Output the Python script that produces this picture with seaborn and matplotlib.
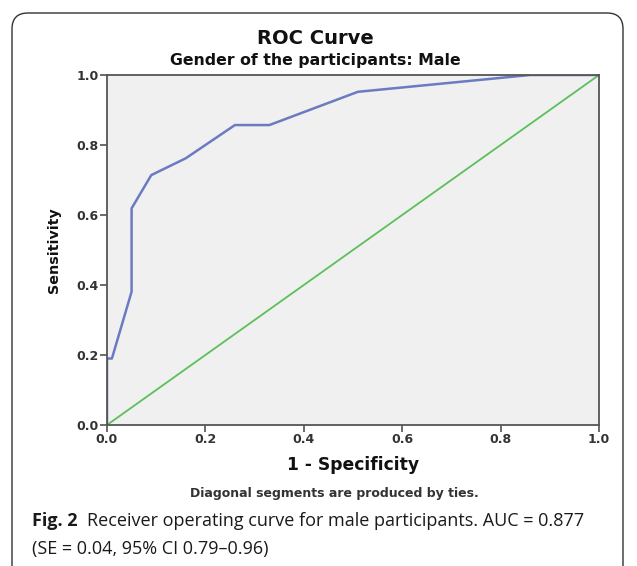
import matplotlib
matplotlib.use("Agg")
import matplotlib.pyplot as plt
import seaborn as sns
import pandas as pd
from matplotlib.patches import FancyBboxPatch

# ROC data (1 - specificity, sensitivity)
fpr = [0.0, 0.0, 0.01, 0.05, 0.05, 0.09, 0.16, 0.26, 0.33, 0.51, 0.86, 1.0]
tpr = [0.0, 0.190, 0.190, 0.381, 0.619, 0.714, 0.762, 0.857, 0.857, 0.952, 1.0, 1.0]
ref_x = [0.0, 1.0]
ref_y = [0.0, 1.0]
ticks = [0.0, 0.2, 0.4, 0.6, 0.8, 1.0]
tick_labels = ["0.0", "0.2", "0.4", "0.6", "0.8", "1.0"]

sns.set_style("white")
plt.rcParams['font.family'] = ['DejaVu Sans']

W, H = 637, 566
fig = plt.figure(figsize=(W/100, H/100), dpi=100)
ax = fig.add_axes([107/W, 1 - 425/H, (599-107)/W, (425-75)/H])
ax.set_facecolor("#f0f0f0")

roc = pd.DataFrame({"fpr": fpr, "tpr": tpr})
diag = pd.DataFrame({"x": ref_x, "y": ref_y})
sns.lineplot(data=diag, x="x", y="y", ax=ax, color="#5cbf5c", lw=1.3, sort=False, estimator=None)
sns.lineplot(data=roc, x="fpr", y="tpr", ax=ax, color="#6b7bc2", lw=1.8, sort=False, estimator=None)

ax.set_xlim(0, 1)
ax.set_ylim(0, 1)
ax.set_xticks(ticks)
ax.set_xticklabels(tick_labels)
ax.set_yticks(ticks)
ax.set_yticklabels(tick_labels)
for lab in ax.get_xticklabels() + ax.get_yticklabels():
    lab.set_fontweight("bold")
    lab.set_fontsize(9)
    lab.set_color("#333333")
ax.tick_params(axis="both", direction="out", length=5, width=1.1, color="#444444", pad=1, left=True, bottom=True)
for s in ax.spines.values():
    s.set_color("#555555")
    s.set_linewidth(1.3)

ax.set_xlabel("1 - Specificity", fontsize=12.3, fontweight="bold", labelpad=7, color="#111111")
ax.set_ylabel("Sensitivity", fontsize=10.3, fontweight="bold", labelpad=11, color="#111111")

fig.text(315/W, 1 - 38/H, "ROC Curve", ha="center", va="center", fontsize=14, fontweight="bold", color="#111111")
fig.text(315/W, 1 - 61/H, "Gender of the participants: Male", ha="center", va="center", fontsize=11.3, fontweight="bold", color="#111111")
fig.text(334/W, 1 - 493/H, "Diagonal segments are produced by ties.", ha="center", va="center", fontsize=9.0, fontweight="bold", color="#333333")

# caption
cap_font = ["Open Sans", "DejaVu Sans"]
t1 = fig.text(32/W, 1 - 521/H, "Fig. 2", ha="left", va="center", fontsize=13, family=cap_font,
              fontweight="bold", color="#1a1a1a")
fig.canvas.draw()
bb = t1.get_window_extent()
x_next = (bb.x1 + 9) / W
fig.text(x_next, 1 - 521/H, "Receiver operating curve for male participants. AUC = 0.877",
         ha="left", va="center", fontsize=13, family=cap_font, color="#1a1a1a")
fig.text(32/W, 1 - 549/H, "(SE = 0.04, 95% CI 0.79–0.96)",
         ha="left", va="center", fontsize=13, family=cap_font, color="#1a1a1a")

box = FancyBboxPatch((12/W, -0.05), (623-12)/W, 1 - 13/H + 0.05,
                     boxstyle="round,pad=0,rounding_size=0.025", transform=fig.transFigure,
                     fill=False, edgecolor="#333333", lw=1.0, mutation_aspect=W/H)
fig.patches.append(box)

fig.savefig("out.png", dpi=100)
